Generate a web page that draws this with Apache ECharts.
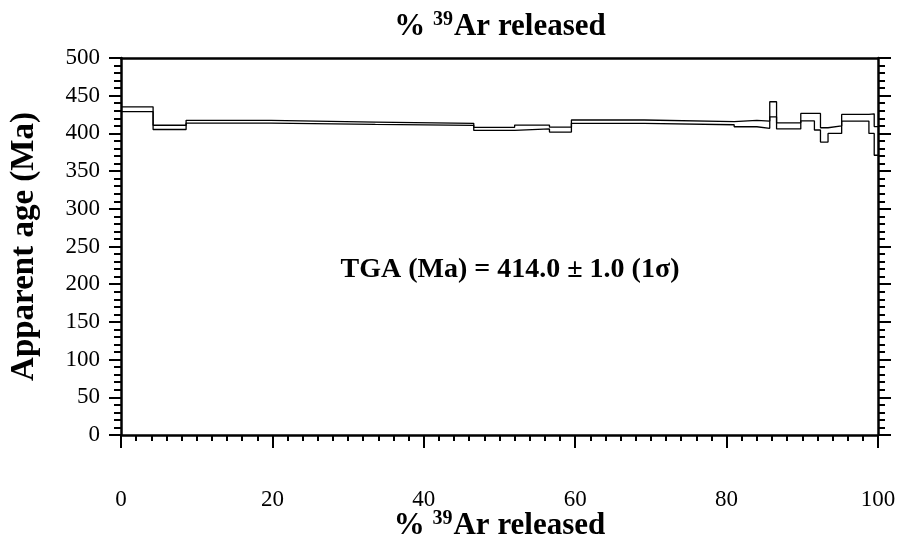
<!DOCTYPE html>
<html><head><meta charset="utf-8">
<script src="https://cdn.jsdelivr.net/npm/echarts@6/dist/echarts.min.js"></script>
<style>html,body{margin:0;padding:0;background:#fff}#c{width:900px;height:545px}</style>
</head><body><div id="c"></div>
<script>
// cumulative % 39Ar released at step boundaries
const pctEdges = [0, 4.24, 8.6, 19.8, 33.6, 46.6, 52.0, 56.6, 59.5, 69.1, 81.0, 84.0, 85.7, 86.6, 89.8, 91.6, 92.4, 93.4, 95.2, 98.8, 99.5, 100];
// apparent ages (Ma) per step
const ages = [432, 408, 415.5, 413.5, 412, 406, 408.5, 405, 415.6, 413.5, 413, 411.6, 432, 410, 421.5, 415.5, 398, 405, 420.8, 413, 390];
// half-height of each step box (Ma)
const errors = [3.2, 2.8, 1.8, 1.5, 1.3, 2, 2.6, 3.3, 2.2, 2, 4.2, 4.8, 10, 4, 5, 11, 9.5, 5, 4.4, 13, 19];
const xTicks = [0, 20, 40, 60, 80, 100];
const yTicks = [0, 50, 100, 150, 200, 250, 300, 350, 400, 450, 500];
const annotation = 'TGA (Ma) = 414.0 ± 1.0 (1σ)';

// step envelopes: each step spans [edge_i, edge_i+1] at age ± error
const upper = [], lower = [];
ages.forEach((a, i) => {
  upper.push([pctEdges[i], a + errors[i]], [pctEdges[i + 1], a + errors[i]]);
  lower.push([pctEdges[i], a - errors[i]], [pctEdges[i + 1], a - errors[i]]);
});

const FONT = '"Liberation Serif", "Times New Roman", serif';
const chart = echarts.init(document.getElementById('c'));
const nameRich = {
  n: {fontFamily: FONT, fontWeight: 'bold', fontSize: 31, color: '#000', lineHeight: 34},
  s: {fontFamily: FONT, fontWeight: 'bold', fontSize: 20, color: '#000', lineHeight: 34, verticalAlign: 'top', padding: [0, 1, 14, 0]}
};
const lineStyle = {color: '#000', width: 1.3};
chart.setOption({
  animation: false,
  backgroundColor: '#fff',
  grid: {left: 121, right: 22, top: 58, bottom: 110, containLabel: false, outerBoundsMode: 'none'},
  xAxis: [{
    type: 'value', min: 0, max: 100, interval: 20, position: 'bottom',
    name: '{n|% }{s|39}{n|Ar released}', nameLocation: 'middle', nameGap: 74,
    nameMoveOverlap: false,
    nameTextStyle: {rich: nameRich},
    axisLine: {show: true, lineStyle: {color: '#000', width: 2.5}},
    axisTick: {show: true, length: 13, lineStyle: {color: '#000', width: 2}},
    minorTick: {show: true, splitNumber: 10, length: 6, lineStyle: {color: '#000', width: 2}},
    splitLine: {show: false},
    axisLabel: {fontFamily: FONT, fontSize: 23, color: '#000', margin: 53,
      formatter: v => xTicks.includes(v) ? String(v) : ''}
  }, {
    type: 'value', min: 0, max: 100, position: 'top',
    axisLine: {show: true, onZero: false, lineStyle: {color: '#000', width: 2.5}},
    axisTick: {show: false}, axisLabel: {show: false}, splitLine: {show: false}
  }],
  yAxis: [{
    type: 'value', min: 0, max: 500, interval: 50, position: 'left',
    name: 'Apparent age (Ma)', nameLocation: 'middle', nameGap: 80,
    nameMoveOverlap: false,
    nameTextStyle: {fontFamily: FONT, fontWeight: 'bold', fontSize: 33, color: '#000'},
    axisLine: {show: true, lineStyle: {color: '#000', width: 2.5}},
    axisTick: {show: true, length: 12, lineStyle: {color: '#000', width: 2}},
    minorTick: {show: true, splitNumber: 5, length: 7, lineStyle: {color: '#000', width: 2}},
    splitLine: {show: false},
    axisLabel: {fontFamily: FONT, fontSize: 23, color: '#000', margin: 21,
      formatter: v => yTicks.includes(v) ? String(v) : ''}
  }, {
    type: 'value', min: 0, max: 500, interval: 50, position: 'right',
    axisLine: {show: true, onZero: false, lineStyle: {color: '#000', width: 2.5}},
    axisTick: {show: true, length: 13, lineStyle: {color: '#000', width: 2}},
    minorTick: {show: true, splitNumber: 5, length: 7, lineStyle: {color: '#000', width: 2}},
    axisLabel: {show: false}, splitLine: {show: false}
  }],
  graphic: [{
    type: 'text', x: 500, y: 27,
    style: {text: '{n|% }{s|39}{n|Ar released}', rich: nameRich, align: 'center', verticalAlign: 'middle'}
  }, {
    type: 'text', x: 510, y: 270,
    style: {text: annotation, fontFamily: FONT, fontWeight: 'bold', fontSize: 28, fill: '#000', align: 'center', verticalAlign: 'middle'}
  }],
  series: [{
    type: 'line', data: upper, xAxisIndex: 0, yAxisIndex: 0,
    showSymbol: false, symbol: 'none', lineStyle: lineStyle, silent: true
  }, {
    type: 'line', data: lower, xAxisIndex: 0, yAxisIndex: 0,
    showSymbol: false, symbol: 'none', lineStyle: lineStyle, silent: true
  }]
});
</script></body></html>
